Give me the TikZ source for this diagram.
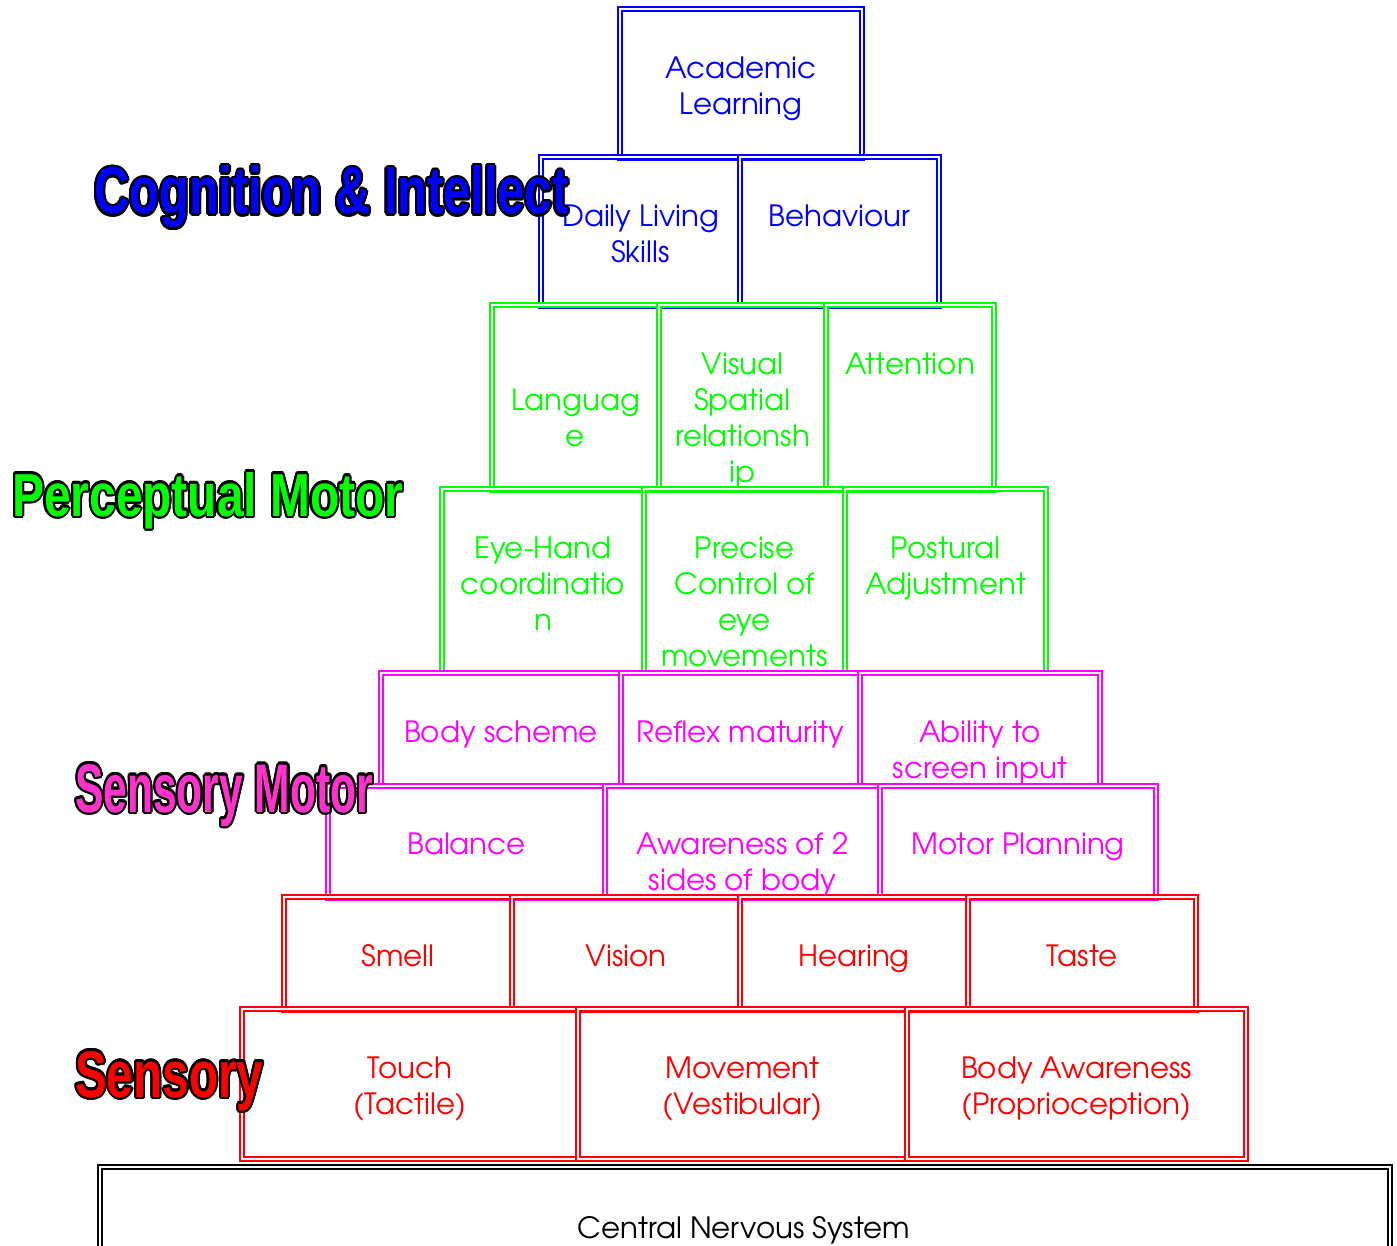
\documentclass[tikz,border=0pt]{standalone}
\usepackage{fontspec}
\usepackage{graphicx}
\setmainfont{TeX Gyre Adventor}
\newfontfamily\bfont{Liberation Sans}[BoldFont={Liberation Sans Bold}]
\definecolor{pyBlue}{HTML}{0000FF}
\definecolor{pyGreen}{HTML}{00FF00}
\definecolor{pyMag}{HTML}{FF00FF}
\definecolor{pyPink}{HTML}{FF33CC}
\definecolor{pyRed}{HTML}{FF0000}
\newcommand{\ls}{\vrule width 0pt height 22pt depth 7.5pt}
\newcommand{\pbox}[6]{\node[bx, draw=#2, minimum width={(#5-#3)*1pt}, minimum height={(#6-#4)*1pt}] (#1) at ({(#3+#5)/2},{(#4+#6)/2}) {};}
\newcommand{\ptext}[4]{\node[tx, text=#2] (t#1) at (#1.center |- 0,#3) {#4};}
\newcommand{\biglabel}[7]{%
  \foreach \a in {0,22.5,...,337.5}
    \node[bl, text=black] (#1\a) at ([shift={(\a:2.2)}]#3,#4) {\resizebox{#5pt}{#6pt}{\bfont\bfseries #7}};
  \node[bl, text=#2] (#1) at (#3,#4) {\resizebox{#5pt}{#6pt}{\bfont\bfseries #7}};}
\begin{document}
\begin{tikzpicture}[x=1pt,y=-1pt,
  bx/.style={rectangle, inner sep=0pt, line width=2.2pt, double=white, double distance=1.2pt},
  tx/.style={inner sep=0pt, align=center, font=\fontsize{29.3}{36}\selectfont},
  bl/.style={anchor=base west, inner sep=0pt}]
\useasboundingbox[fill=white] (0,0) rectangle (1397,1246);
% blue
\pbox{al}{pyBlue}{620}{9}{862}{158}
\pbox{dl}{pyBlue}{541}{157}{740}{306}
\pbox{be}{pyBlue}{740}{157}{939}{306}
% green
\pbox{la}{pyGreen}{492}{305}{659}{490}
\pbox{vs}{pyGreen}{659}{305}{826}{490}
\pbox{at}{pyGreen}{826}{305}{994}{490}
\pbox{eh}{pyGreen}{442}{489}{644}{673}
\pbox{pc}{pyGreen}{644}{489}{845}{673}
\pbox{pa}{pyGreen}{845}{489}{1046}{673}
% magenta
\pbox{bs}{pyMag}{381}{673}{621}{786}
\pbox{rm}{pyMag}{621}{673}{860}{786}
\pbox{as}{pyMag}{860}{673}{1100}{786}
\pbox{ba}{pyMag}{328}{786}{605}{898}
\pbox{aw}{pyMag}{605}{786}{880}{898}
\pbox{mp}{pyMag}{880}{786}{1156}{898}
% red
\pbox{sm}{pyRed}{284}{897}{512}{1010}
\pbox{vi}{pyRed}{512}{897}{740}{1010}
\pbox{he}{pyRed}{740}{897}{968}{1010}
\pbox{ta}{pyRed}{968}{897}{1196}{1010}
\pbox{to}{pyRed}{242}{1009}{578}{1159}
\pbox{mo}{pyRed}{578}{1009}{907}{1159}
\pbox{bo}{pyRed}{907}{1009}{1246}{1159}
% CNS
\pbox{cns}{black}{100}{1167}{1390}{1300}
% texts
\ptext{al}{pyBlue}{89.5}{\ls Academic\\\ls Learning}
\ptext{dl}{pyBlue}{237.5}{\ls Daily Living\\\ls Skills}
\ptext{be}{pyBlue}{219.5}{\ls Behaviour}
\ptext{la}{pyGreen}{421.5}{\ls Languag\\\ls e}
\ptext{vs}{pyGreen}{421.5}{\ls Visual\\\ls Spatial\\\ls relationsh\\\ls ip}
\ptext{at}{pyGreen}{367.5}{\ls Attention}
\ptext{eh}{pyGreen}{587.5}{\ls Eye-Hand\\\ls coordinatio\\\ls n}
\ptext{pc}{pyGreen}{605.5}{\ls Precise\\\ls Control of\\\ls eye\\\ls movements}
\ptext{pa}{pyGreen}{569.5}{\ls Postural\\\ls Adjustment}
\ptext{bs}{pyMag}{735.5}{\ls Body scheme}
\ptext{rm}{pyMag}{735.5}{\ls Reflex maturity}
\ptext{as}{pyMag}{753.5}{\ls Ability to\\\ls screen input}
\ptext{ba}{pyMag}{847.5}{\ls Balance}
\ptext{aw}{pyMag}{865.5}{\ls Awareness of 2\\\ls sides of body}
\ptext{mp}{pyMag}{847.5}{\ls Motor Planning}
\ptext{sm}{pyRed}{959.5}{\ls Smell}
\ptext{vi}{pyRed}{959.5}{\ls Vision}
\ptext{he}{pyRed}{959.5}{\ls Hearing}
\ptext{ta}{pyRed}{959.5}{\ls Taste}
\ptext{to}{pyRed}{1089.5}{\ls Touch\\\ls (Tactile)}
\ptext{mo}{pyRed}{1089.5}{\ls Movement\\\ls (Vestibular)}
\ptext{bo}{pyRed}{1089.5}{\ls Body Awareness\\\ls (Proprioception)}
\node[tx, text=black] (tcns) at (744,1231.5) {\ls Central Nervous System};
% big labels
\biglabel{cog}{pyBlue}{94}{214}{474}{48}{Cognition \& Intellect}
\biglabel{per}{pyGreen}{12}{516}{391}{44}{Perceptual Motor}
\biglabel{smo}{pyPink}{75}{812}{298}{48}{Sensory Motor}
\biglabel{sen}{pyRed}{75}{1097}{188}{46}{Sensory}
\end{tikzpicture}
\end{document}
